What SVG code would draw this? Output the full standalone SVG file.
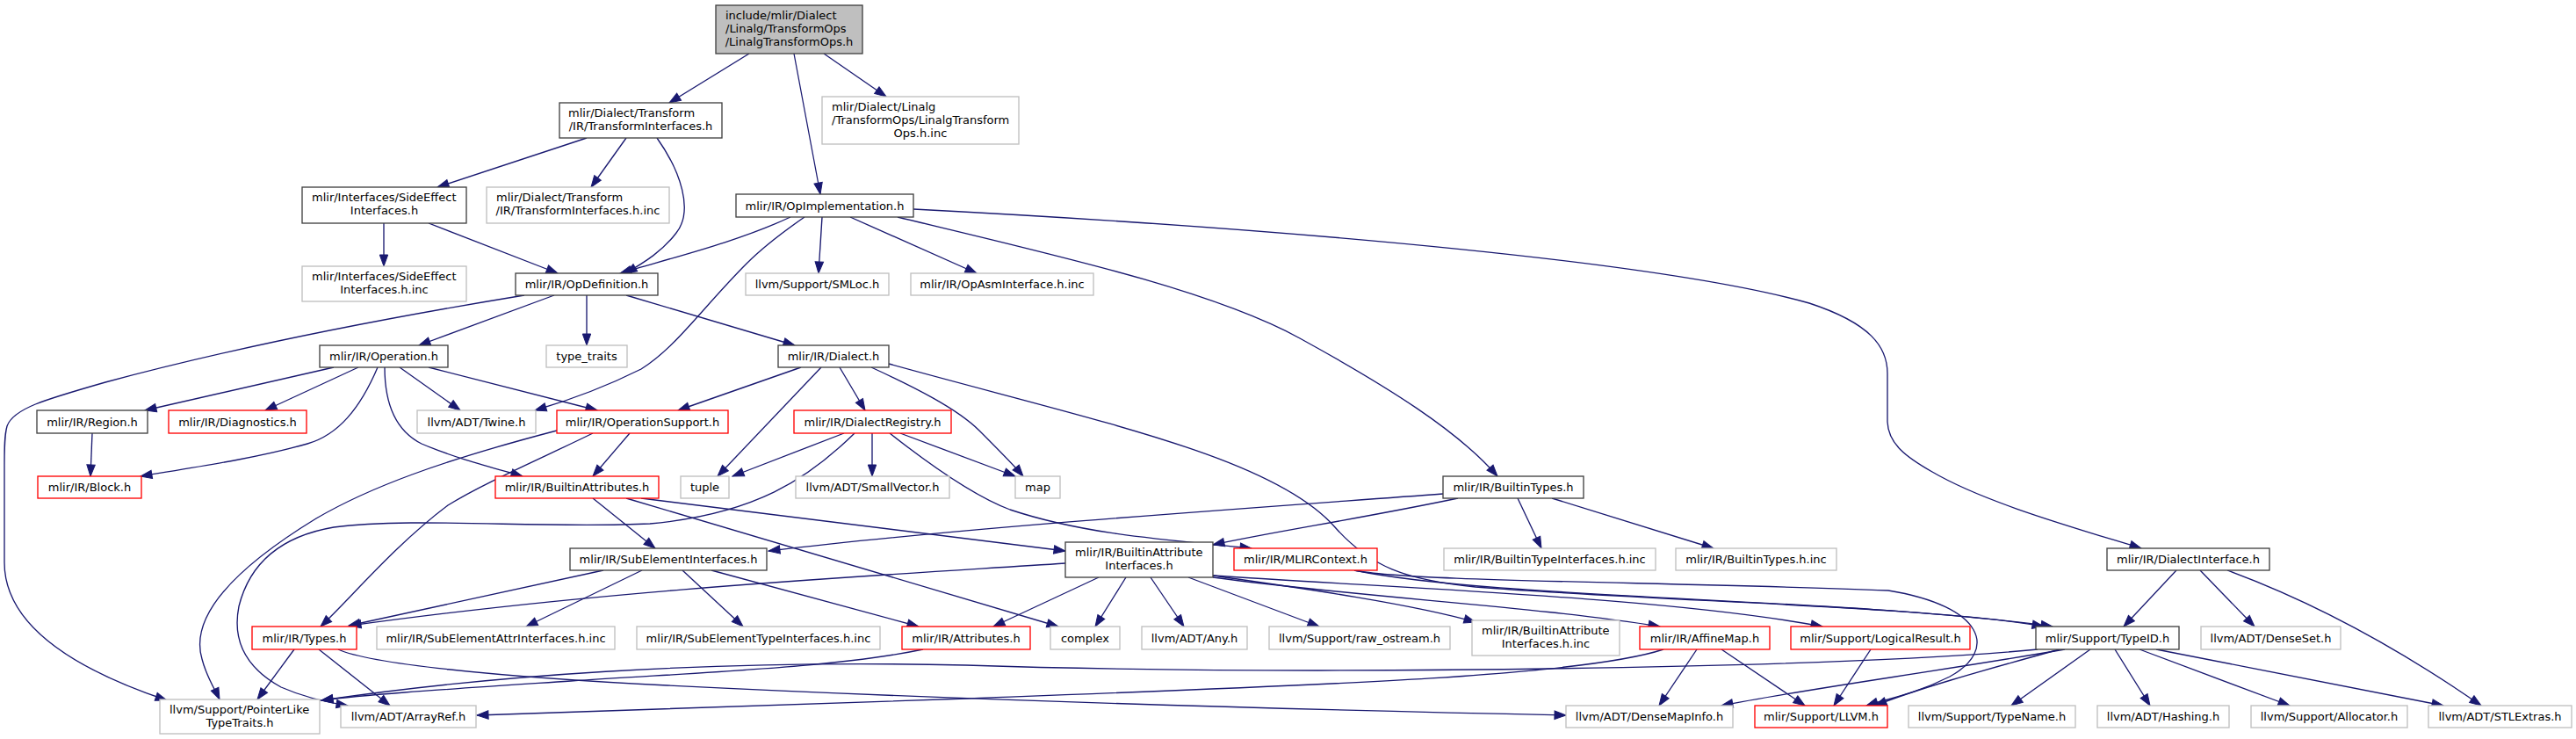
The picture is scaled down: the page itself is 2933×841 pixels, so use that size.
<svg xmlns="http://www.w3.org/2000/svg" width="2933" height="841" viewBox="0 0 2933 841">
<style>
.node rect{stroke-width:1.33}
.blk{fill:#fff;stroke:#404040}
.ext{fill:#fff;stroke:#bfbfbf}
.red{fill:#fff;stroke:#ff0000}
.root{fill:#bfbfbf;stroke:#404040}
text{font-family:'DejaVu Sans',sans-serif;font-size:13px;fill:#000}
.c{text-anchor:middle}
#edges path{fill:none;stroke:#191970;stroke-width:1.33;marker-end:url(#ah)}
</style>
<defs>
<marker id="ah" markerUnits="userSpaceOnUse" markerWidth="14" markerHeight="10" refX="13" refY="4.7" orient="auto" viewBox="0 0 14 10" overflow="visible">
<path d="M0,0 L13,4.7 L0,9.4 z" fill="#191970" stroke="#191970" stroke-width="1"/>
</marker>
</defs>
<rect width="2933" height="841" fill="#fff"/>
<g id="edges">
<path d="M853,61 L762,117"/>
<path d="M904,61 L934,221"/>
<path d="M938,61 L1009,110"/>
<path d="M668,157 L498,213"/>
<path d="M713,157 L673,213"/>
<path d="M748,157 C775,195 790,240 770,265 C755,285 735,298 712,311"/>
<path d="M437,254 L437,303"/>
<path d="M488,254 L635,311"/>
<path d="M900,247 C840,275 770,292 706,311"/>
<path d="M916,247 C890,265 870,280 850,300 C800,350 770,395 730,420 C690,440 650,455 609,467"/>
<path d="M936,247 L932,311"/>
<path d="M968,247 L1112,311"/>
<path d="M1022,247 C1200,290 1380,330 1480,385 C1580,440 1660,490 1705,542"/>
<path d="M1040,238 C1500,262 1900,300 2060,345 C2130,368 2149,395 2149,425 L2149,480 C2150,505 2170,520 2200,537 C2260,572 2360,600 2438,624"/>
<path d="M631,336 L477,393"/>
<path d="M668,336 L668,393"/>
<path d="M713,336 L905,393"/>
<path d="M597,336 C420,365 250,400 120,435 C50,455 15,465 8,485 C5,495 5,510 5,530 L5,640 C5,710 80,760 190,797"/>
<path d="M380,418 L165,467"/>
<path d="M408,418 L302,467"/>
<path d="M430,418 C410,465 385,495 350,505 C290,522 220,532 160,542"/>
<path d="M438,418 C438,460 450,490 480,505 C520,522 560,532 595,542"/>
<path d="M455,418 L524,467"/>
<path d="M488,418 L680,467"/>
<path d="M105,493 L103,542"/>
<path d="M912,418 L772,467"/>
<path d="M935,418 L817,542"/>
<path d="M956,418 L985,467"/>
<path d="M992,418 C1040,440 1090,465 1115,490 C1140,515 1155,530 1165,542"/>
<path d="M1012,414 C1250,480 1450,520 1520,600 C1560,645 1600,660 1680,668 C1900,685 2200,690 2327,713"/>
<path d="M717,493 L675,542"/>
<path d="M675,493 C620,520 550,550 510,575 C450,620 400,680 365,713"/>
<path d="M634,490 C500,525 420,555 360,590 C270,645 215,700 230,750 C235,770 245,785 250,796"/>
<path d="M961,493 L834,542"/>
<path d="M993,493 L993,542"/>
<path d="M1025,493 L1156,542"/>
<path d="M1013,493 C1060,530 1110,565 1150,580 C1240,610 1340,615 1425,624"/>
<path d="M973,493 C920,545 860,585 740,596 C620,602 470,588 380,600 C310,612 282,650 272,690 C264,730 280,760 320,782 C345,793 370,799 396,803"/>
<path d="M675,567 L746,624"/>
<path d="M730,567 L1213,627"/>
<path d="M713,567 L1205,713"/>
<path d="M1643,562 C1400,580 1100,600 875,627"/>
<path d="M1660,567 C1550,590 1450,605 1381,620"/>
<path d="M1728,567 L1755,624"/>
<path d="M1767,567 L1951,624"/>
<path d="M687,649 L397,712"/>
<path d="M731,649 L599,713"/>
<path d="M777,649 L846,713"/>
<path d="M810,649 L1046,713"/>
<path d="M1213,641 C1000,655 700,670 398,712"/>
<path d="M1251,657 L1131,713"/>
<path d="M1282,657 L1247,713"/>
<path d="M1310,657 L1348,713"/>
<path d="M1353,657 L1502,713"/>
<path d="M1381,655 C1450,665 1600,685 1680,708"/>
<path d="M1381,657 C1550,680 1750,690 1890,713"/>
<path d="M1381,655 C1600,670 1900,680 2075,713"/>
<path d="M1542,649 C1700,682 2100,680 2337,713"/>
<path d="M1542,649 C1600,662 1900,662 2150,672 C2260,690 2275,740 2220,770 C2180,790 2150,795 2125,803"/>
<path d="M2478,649 L2418,713"/>
<path d="M2505,649 L2567,713"/>
<path d="M2536,649 C2620,680 2720,730 2825,803"/>
<path d="M335,739 L293,796"/>
<path d="M363,739 L444,803"/>
<path d="M385,739 C420,755 560,770 760,780 C1100,797 1500,808 1783,814"/>
<path d="M1051,739 C950,760 800,765 650,775 C500,785 420,790 366,797"/>
<path d="M2320,739 C2100,760 1500,770 1100,757 C800,750 550,770 366,797"/>
<path d="M2351,739 C2200,765 2050,785 1960,803"/>
<path d="M2345,739 C2250,765 2180,785 2135,803"/>
<path d="M2380,739 L2290,803"/>
<path d="M2408,739 L2448,803"/>
<path d="M2436,739 L2607,803"/>
<path d="M2455,739 L2782,803"/>
<path d="M1894,739 C1800,770 1500,780 1100,795 C850,805 650,810 543,814"/>
<path d="M1932,739 L1889,803"/>
<path d="M1960,739 L2055,803"/>
<path d="M2130,739 L2088,803"/>
</g>
<g id="n0" class="node"><rect class="root" x="815" y="6" width="167" height="55"/><text x="826" y="22">include/mlir/Dialect</text><text x="826" y="37">/Linalg/TransformOps</text><text class="c" x="898.5" y="52">/LinalgTransformOps.h</text></g>
<g id="n1" class="node"><rect class="blk" x="637" y="117" width="185" height="40"/><text x="647" y="133">mlir/Dialect/Transform</text><text class="c" x="729.5" y="148">/IR/TransformInterfaces.h</text></g>
<g id="n2" class="node"><rect class="ext" x="936" y="110" width="224" height="54"/><text x="947" y="126">mlir/Dialect/Linalg</text><text x="947" y="141">/TransformOps/LinalgTransform</text><text class="c" x="1048" y="156">Ops.h.inc</text></g>
<g id="n3" class="node"><rect class="blk" x="344" y="213" width="187" height="41"/><text x="355" y="229">mlir/Interfaces/SideEffect</text><text class="c" x="437.5" y="244">Interfaces.h</text></g>
<g id="n4" class="node"><rect class="ext" x="554" y="213" width="208" height="41"/><text x="565" y="229">mlir/Dialect/Transform</text><text class="c" x="658" y="244">/IR/TransformInterfaces.h.inc</text></g>
<g id="n5" class="node"><rect class="blk" x="838" y="221" width="202" height="26"/><text class="c" x="939" y="238.5">mlir/IR/OpImplementation.h</text></g>
<g id="n6" class="node"><rect class="ext" x="344" y="303" width="187" height="40"/><text x="355" y="319">mlir/Interfaces/SideEffect</text><text class="c" x="437.5" y="334">Interfaces.h.inc</text></g>
<g id="n7" class="node"><rect class="blk" x="587" y="311" width="162" height="25"/><text class="c" x="668" y="328">mlir/IR/OpDefinition.h</text></g>
<g id="n8" class="node"><rect class="ext" x="849" y="311" width="163" height="25"/><text class="c" x="930.5" y="328">llvm/Support/SMLoc.h</text></g>
<g id="n9" class="node"><rect class="ext" x="1037" y="311" width="208" height="25"/><text class="c" x="1141" y="328">mlir/IR/OpAsmInterface.h.inc</text></g>
<g id="n10" class="node"><rect class="blk" x="364" y="393" width="146" height="25"/><text class="c" x="437" y="410">mlir/IR/Operation.h</text></g>
<g id="n11" class="node"><rect class="ext" x="622" y="393" width="92" height="25"/><text class="c" x="668" y="410">type_traits</text></g>
<g id="n12" class="node"><rect class="blk" x="886" y="393" width="126" height="25"/><text class="c" x="949" y="410">mlir/IR/Dialect.h</text></g>
<g id="n13" class="node"><rect class="blk" x="42" y="467" width="126" height="26"/><text class="c" x="105" y="484.5">mlir/IR/Region.h</text></g>
<g id="n14" class="node"><rect class="red" x="192" y="467" width="157" height="26"/><text class="c" x="270.5" y="484.5">mlir/IR/Diagnostics.h</text></g>
<g id="n15" class="node"><rect class="ext" x="475" y="467" width="135" height="26"/><text class="c" x="542.5" y="484.5">llvm/ADT/Twine.h</text></g>
<g id="n16" class="node"><rect class="red" x="634" y="467" width="195" height="26"/><text class="c" x="731.5" y="484.5">mlir/IR/OperationSupport.h</text></g>
<g id="n17" class="node"><rect class="red" x="904" y="467" width="179" height="26"/><text class="c" x="993.5" y="484.5">mlir/IR/DialectRegistry.h</text></g>
<g id="n18" class="node"><rect class="red" x="43" y="542" width="118" height="25"/><text class="c" x="102" y="559">mlir/IR/Block.h</text></g>
<g id="n19" class="node"><rect class="red" x="564" y="542" width="186" height="25"/><text class="c" x="657" y="559">mlir/IR/BuiltinAttributes.h</text></g>
<g id="n20" class="node"><rect class="ext" x="775" y="542" width="55" height="25"/><text class="c" x="802.5" y="559">tuple</text></g>
<g id="n21" class="node"><rect class="ext" x="906" y="542" width="175" height="25"/><text class="c" x="993.5" y="559">llvm/ADT/SmallVector.h</text></g>
<g id="n22" class="node"><rect class="ext" x="1156" y="542" width="51" height="25"/><text class="c" x="1181.5" y="559">map</text></g>
<g id="n23" class="node"><rect class="blk" x="1643" y="542" width="160" height="25"/><text class="c" x="1723" y="559">mlir/IR/BuiltinTypes.h</text></g>
<g id="n24" class="node"><rect class="blk" x="649" y="624" width="224" height="25"/><text class="c" x="761" y="641">mlir/IR/SubElementInterfaces.h</text></g>
<g id="n25" class="node"><rect class="blk" x="1213" y="617" width="168" height="40"/><text x="1224" y="633">mlir/IR/BuiltinAttribute</text><text class="c" x="1297" y="648">Interfaces.h</text></g>
<g id="n26" class="node"><rect class="red" x="1405" y="624" width="163" height="25"/><text class="c" x="1486.5" y="641">mlir/IR/MLIRContext.h</text></g>
<g id="n27" class="node"><rect class="ext" x="1644" y="624" width="241" height="25"/><text class="c" x="1764.5" y="641">mlir/IR/BuiltinTypeInterfaces.h.inc</text></g>
<g id="n28" class="node"><rect class="ext" x="1908" y="624" width="183" height="25"/><text class="c" x="1999.5" y="641">mlir/IR/BuiltinTypes.h.inc</text></g>
<g id="n29" class="node"><rect class="blk" x="2399" y="624" width="185" height="25"/><text class="c" x="2491.5" y="641">mlir/IR/DialectInterface.h</text></g>
<g id="n30" class="node"><rect class="red" x="287" y="713" width="119" height="26"/><text class="c" x="346.5" y="730.5">mlir/IR/Types.h</text></g>
<g id="n31" class="node"><rect class="ext" x="429" y="713" width="271" height="26"/><text class="c" x="564.5" y="730.5">mlir/IR/SubElementAttrInterfaces.h.inc</text></g>
<g id="n32" class="node"><rect class="ext" x="725" y="713" width="277" height="26"/><text class="c" x="863.5" y="730.5">mlir/IR/SubElementTypeInterfaces.h.inc</text></g>
<g id="n33" class="node"><rect class="red" x="1027" y="713" width="146" height="26"/><text class="c" x="1100" y="730.5">mlir/IR/Attributes.h</text></g>
<g id="n34" class="node"><rect class="ext" x="1196" y="713" width="79" height="26"/><text class="c" x="1235.5" y="730.5">complex</text></g>
<g id="n35" class="node"><rect class="ext" x="1300" y="713" width="120" height="26"/><text class="c" x="1360" y="730.5">llvm/ADT/Any.h</text></g>
<g id="n36" class="node"><rect class="ext" x="1445" y="713" width="206" height="26"/><text class="c" x="1548" y="730.5">llvm/Support/raw_ostream.h</text></g>
<g id="n37" class="node"><rect class="ext" x="1676" y="706" width="168" height="40"/><text x="1687" y="722">mlir/IR/BuiltinAttribute</text><text class="c" x="1760" y="737">Interfaces.h.inc</text></g>
<g id="n38" class="node"><rect class="red" x="1867" y="713" width="148" height="26"/><text class="c" x="1941" y="730.5">mlir/IR/AffineMap.h</text></g>
<g id="n39" class="node"><rect class="red" x="2039" y="713" width="204" height="26"/><text class="c" x="2141" y="730.5">mlir/Support/LogicalResult.h</text></g>
<g id="n40" class="node"><rect class="blk" x="2318" y="713" width="163" height="26"/><text class="c" x="2399.5" y="730.5">mlir/Support/TypeID.h</text></g>
<g id="n41" class="node"><rect class="ext" x="2506" y="713" width="159" height="26"/><text class="c" x="2585.5" y="730.5">llvm/ADT/DenseSet.h</text></g>
<g id="n42" class="node"><rect class="ext" x="182" y="796" width="182" height="39"/><text x="193" y="812">llvm/Support/PointerLike</text><text class="c" x="273" y="827">TypeTraits.h</text></g>
<g id="n43" class="node"><rect class="ext" x="388" y="803" width="154" height="25"/><text class="c" x="465" y="820">llvm/ADT/ArrayRef.h</text></g>
<g id="n44" class="node"><rect class="ext" x="1783" y="803" width="190" height="25"/><text class="c" x="1878" y="820">llvm/ADT/DenseMapInfo.h</text></g>
<g id="n45" class="node"><rect class="red" x="1998" y="803" width="151" height="25"/><text class="c" x="2073.5" y="820">mlir/Support/LLVM.h</text></g>
<g id="n46" class="node"><rect class="ext" x="2173" y="803" width="190" height="25"/><text class="c" x="2268" y="820">llvm/Support/TypeName.h</text></g>
<g id="n47" class="node"><rect class="ext" x="2388" y="803" width="150" height="25"/><text class="c" x="2463" y="820">llvm/ADT/Hashing.h</text></g>
<g id="n48" class="node"><rect class="ext" x="2563" y="803" width="178" height="25"/><text class="c" x="2652" y="820">llvm/Support/Allocator.h</text></g>
<g id="n49" class="node"><rect class="ext" x="2765" y="803" width="163" height="25"/><text class="c" x="2846.5" y="820">llvm/ADT/STLExtras.h</text></g>
</svg>
